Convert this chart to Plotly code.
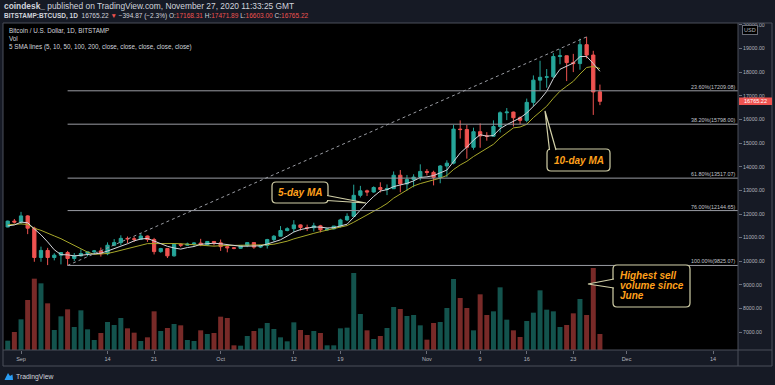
import plotly.graph_objects as go
import pandas as pd

# ---------------- data ----------------
dates = pd.date_range("2020-08-30", "2020-11-27", freq="D")

opens = [11450, 11700,
         11660, 11920, 11400, 10160, 10460, 10160, 10260, 10370, 10120, 10230,
         10330, 10400, 10440, 10320, 10680, 10790, 10970, 10950, 10930, 11070,
         10920, 10410, 10540, 10230, 10720, 10680, 10730, 10770, 10700, 10840,
         10780, 10620, 10570, 10550, 10670, 10790, 10600, 10670, 10920, 11060,
         11300, 11380, 11540, 11430, 11420, 11500, 11330, 11370, 11490, 11750,
         11900, 12790, 12980, 12930, 13120, 13040, 13070, 13640, 13270, 13460, 13560,
         13800, 13760, 13550, 14030, 14150, 15590, 15570, 14820, 15480, 15300,
         15290, 15700, 16280, 16310, 16070, 15960, 16720, 17660, 17780, 17800,
         18660, 18690, 18400, 18360, 19160, 18720, 17168.31]
highs = [11720, 11790,
         12090, 11950, 11460, 10620, 10570, 10340, 10390, 10440, 10350, 10500,
         10400, 10480, 10580, 10800, 10940, 11100, 11050, 11040, 11180, 11090,
         10990, 10570, 10550, 10760, 10770, 10790, 10800, 10950, 10860, 10850,
         10920, 10650, 10600, 10690, 10800, 10800, 10690, 10950, 11110, 11490,
         11440, 11740, 11560, 11550, 11630, 11540, 11400, 11490, 11800, 12030,
         13240, 13190, 13030, 13170, 13340, 13250, 13800, 13860, 13650, 13680, 14100,
         13900, 13830, 14070, 14270, 15770, 15960, 15770, 15650, 15830, 15460,
         15960, 16340, 16480, 16330, 16130, 16880, 17860, 18480, 18130, 18800,
         18970, 18700, 18770, 19410, 19490, 18900, 17471.89]
lows = [11440, 11600,
        11580, 11150, 9980, 9980, 9840, 10040, 9870, 9825.07, 10010, 10200,
        10210, 10300, 10200, 10260, 10640, 10680, 10770, 10820, 10900, 10820,
        10290, 10360, 10140, 10200, 10600, 10650, 10620, 10640, 10650, 10670,
        10440, 10380, 10510, 10530, 10600, 10530, 10560, 10540, 10840, 11060,
        11270, 11230, 11300, 11280, 11260, 11220, 11300, 11350, 11430, 11700,
        11890, 12700, 12760, 12900, 12910, 12800, 13060, 12920, 12990, 13130, 13420,
        13630, 13210, 13300, 13560, 14100, 15190, 14340, 14720, 14800, 15100,
        15280, 15450, 15970, 15700, 15800, 15880, 16560, 17220, 17340, 17750,
        18330, 17620, 18000, 18100, 18580, 16190, 16603.00]
closes = [11700, 11660,
          11920, 11400, 10160, 10460, 10160, 10260, 10370, 10120, 10230, 10330,
          10400, 10440, 10320, 10680, 10790, 10970, 10950, 10930, 11070, 10920,
          10410, 10540, 10230, 10720, 10680, 10730, 10770, 10700, 10840, 10780,
          10620, 10570, 10550, 10670, 10790, 10600, 10670, 10920, 11060, 11300,
          11380, 11540, 11430, 11420, 11500, 11330, 11370, 11490, 11750, 11900,
          12790, 12980, 12930, 13120, 13040, 13070, 13640, 13270, 13460, 13560, 13800,
          13760, 13550, 14030, 14150, 15590, 15570, 14820, 15480, 15300, 15290,
          15700, 16280, 16310, 16070, 15960, 16720, 17660, 17780, 17800, 18660,
          18690, 18400, 18360, 19160, 18720, 17160.09, 16765.22]
# volume, thousand BTC
volumes = [2.8, 5.4,
           9.2, 15.0, 21.4, 20.0, 14.0, 6.0, 10.1, 12.2, 6.9, 11.9,
           6.2, 3.0, 5.1, 8.4, 7.5, 9.6, 6.5, 5.2, 2.7, 3.8,
           11.6, 5.7, 6.6, 7.8, 7.4, 3.0, 2.7, 5.9, 4.8, 5.1,
           10.0, 9.6, 1.4, 1.3, 4.2, 5.7, 6.5, 8.1, 6.3, 3.8,
           2.6, 8.3, 6.0, 4.5, 5.7, 5.1, 1.4, 1.4, 6.5, 6.7,
           23.1, 10.8, 5.9, 3.3, 4.2, 6.6, 12.9, 12.3, 10.2, 10.5, 7.4,
           3.1, 8.1, 8.4, 12.6, 21.3, 15.6, 12.6, 5.9, 16.7, 10.5,
           11.6, 18.8, 9.1, 5.9, 3.9, 8.7, 11.2, 17.9, 12.1, 11.6,
           6.9, 7.5, 11.0, 15.3, 10.5, 24.6, 4.8]
# closes Aug 21 - Aug 29, used only to seed the moving averages
pre_closes = [11530, 11680, 11650, 11760, 11330, 11470, 11320, 11530, 11470]

fib_low = 9825.07
fib_high = 19490.00
fib_start = "2020-09-08"
trend_end = "2020-11-25"
fib_ratios = [0.236, 0.382, 0.618, 0.76, 1.0]

tick_dates = ["2020-09-01", "2020-09-14", "2020-09-21", "2020-10-01", "2020-10-12",
              "2020-10-19", "2020-11-01", "2020-11-09", "2020-11-16", "2020-11-23",
              "2020-12-01", "2020-12-14"]
tick_labels = ["Sep", "14", "21", "Oct", "12", "19", "Nov", "9", "16", "23", "Dec", "14"]
price_ticks = list(range(7000, 20001, 1000))

# ---------------- styling / layout constants ----------------
W, H = 775, 385
L, T, R, B = 3, 23, 738, 350
BG = "#161a25"
UP, DN = "#26a69a", "#ef5350"
UPV, DNV = "rgba(38,166,154,0.5)", "rgba(239,83,80,0.5)"
TXT = "#b2b5be"
FRAME = "#4a4e5a"
FIB = "#9a9ca3"
BOX = "#d2d0a8"
ORANGE = "#ffa01c"
FONT = "Liberation Sans"
YMIN, YMAX = 6250, 20076
XR = ["2020-08-29 07:00", "2020-12-17 18:00"]


def px(x):
    return (x - L) / (R - L)


def py(y):
    return (B - y) / (B - T)


def price_to_pix(p):
    return B - (p - YMIN) / (YMAX - YMIN) * (B - T)


def rrect(x0, y0, x1, y1, r):
    pts = [("M", [(x0 + r, y0)]), ("L", [(x1 - r, y0)]), ("Q", [(x1, y0), (x1, y0 + r)]),
           ("L", [(x1, y1 - r)]), ("Q", [(x1, y1), (x1 - r, y1)]), ("L", [(x0 + r, y1)]),
           ("Q", [(x0, y1), (x0, y1 - r)]), ("L", [(x0, y0 + r)]), ("Q", [(x0, y0), (x0 + r, y0)])]
    s = ""
    for cmd, ps in pts:
        s += cmd + " " + " ".join(f"{px(a):.5f},{py(b):.5f}" for a, b in ps) + " "
    return s + "Z"


def wedge(b1, tip, b2):
    return (f"M {px(b1[0]):.5f},{py(b1[1]):.5f} L {px(tip[0]):.5f},{py(tip[1]):.5f} "
            f"L {px(b2[0]):.5f},{py(b2[1]):.5f}")


def label(x, y, text, size, color, xanchor="left", **kw):
    d = dict(xref="paper", yref="paper", x=px(x), y=py(y), xanchor=xanchor, yanchor="middle",
             showarrow=False, borderpad=0, text=text,
             font=dict(family=FONT, size=size, color=color))
    d.update(kw)
    return d


# ---------------- derived series ----------------
allc = pd.Series(pre_closes + closes)
sma5 = allc.rolling(5).mean().iloc[len(pre_closes):].tolist()
sma10 = allc.rolling(10).mean().iloc[len(pre_closes):].tolist()
vol_colors = [UPV if c >= o else DNV for o, c in zip(opens, closes)]

fig = go.Figure()
fig.add_trace(go.Bar(x=dates, y=volumes, yaxis="y2", width=0.75 * 86400000,
                     marker=dict(color=vol_colors, line=dict(width=0)),
                     showlegend=False, hoverinfo="skip"))
fig.add_trace(go.Candlestick(x=dates, open=opens, high=highs, low=lows, close=closes,
                             increasing=dict(line=dict(color=UP, width=1), fillcolor=UP),
                             decreasing=dict(line=dict(color=DN, width=1), fillcolor=DN),
                             whiskerwidth=0, showlegend=False))
fig.add_trace(go.Scatter(x=dates, y=sma10, mode="lines", line=dict(color="#a8a82a", width=1),
                         showlegend=False, hoverinfo="skip"))
fig.add_trace(go.Scatter(x=dates, y=sma5, mode="lines", line=dict(color="#d4d6db", width=1),
                         showlegend=False, hoverinfo="skip"))

shapes = []
annotations = []

# fibonacci levels
for r in fib_ratios:
    lvl = fib_high - r * (fib_high - fib_low)
    shapes.append(dict(type="line", xref="x", yref="y", x0=fib_start, x1=XR[1], y0=lvl, y1=lvl,
                       line=dict(color=FIB, width=1), layer="above"))
    annotations.append(dict(xref="paper", yref="y", x=px(737), y=lvl, xanchor="right",
                            yanchor="bottom", showarrow=False, borderpad=0,
                            text=f"{r*100:.2f}%({lvl:.2f})",
                            font=dict(family=FONT, size=5.4, color="#c3c5cc")))
# trend line
shapes.append(dict(type="line", xref="x", yref="y", x0=fib_start, y0=fib_low, x1=trend_end,
                   y1=fib_high, line=dict(color=FIB, width=1, dash="3px,3px"), layer="above"))

# frame
shapes += [
    dict(type="rect", xref="paper", yref="paper", x0=px(3), x1=px(772), y0=py(366), y1=py(23),
         line=dict(color=FRAME, width=1)),
    dict(type="line", xref="paper", yref="paper", x0=px(738), x1=px(738), y0=py(366), y1=py(23),
         line=dict(color=FRAME, width=1)),
    dict(type="line", xref="paper", yref="paper", x0=px(3), x1=px(772), y0=py(350), y1=py(350),
         line=dict(color=FRAME, width=1)),
]

# callouts
callouts = [
    dict(box=(272, 182, 328, 203), wedge=((327, 195.5), (366, 203), (327, 200.5))),
    dict(box=(547, 149, 610, 171), wedge=((549.5, 150), (545, 111), (556, 150))),
    dict(box=(613, 265, 690, 307), wedge=((614, 279), (588, 284), (614, 288))),
]
for c in callouts:
    shapes.append(dict(type="path", xref="paper", yref="paper", path=rrect(*c["box"], 4),
                       line=dict(color=BOX, width=1.2), fillcolor="#000000", layer="above"))
    shapes.append(dict(type="path", xref="paper", yref="paper", path=wedge(*c["wedge"]),
                       line=dict(color=BOX, width=1.2), fillcolor="#000000", layer="above"))

annotations.append(label(300, 192.5, "<b><i>5-day MA</i></b>", 10, ORANGE, xanchor="center"))
annotations.append(label(578.5, 160, "<b><i>10-day MA</i></b>", 10, ORANGE, xanchor="center"))
for i, line in enumerate(["Highest sell", "volume since", "June"]):
    annotations.append(label(619, 275.5 + 10 * i, f"<b><i>{line}</i></b>", 10, ORANGE))

# header texts
last = closes[-1]
chg = last - closes[-2]
pct = chg / closes[-2] * 100
red = lambda s: f"<span style='color:{DN}'>{s}</span>"
annotations.append(label(3, 6.5, "<b>coindesk_</b> published on TradingView.com, November 27, 2020 11:33:25 GMT",
                         8.4, "#d1d4dc"))
annotations.append(label(3, 15.5,
                         (f"<b>BITSTAMP:BTCUSD, 1D</b>  {last:.2f} {red('▼')} "
                          f"\u2212{abs(chg):.2f} (\u2212{abs(pct):.1f}%) "
                          f"O:{red(f'{opens[-1]:.2f}')} H:{red(f'{highs[-1]:.2f}')} "
                          f"L:{red(f'{lows[-1]:.2f}')} C:{red(f'{last:.2f}')}"),
                         6.5, "#d1d4dc"))
for yy, t in [(30.5, "Bitcoin / U.S. Dollar, 1D, BITSTAMP"), (39, "Vol"),
              (47, "5 SMA lines (5, 10, 50, 100, 200, close, close, close, close, close)")]:
    annotations.append(label(8, yy, t, 6.3, "#d1d4dc"))

# USD badge and last price label
annotations.append(label(750, 30, "USD", 5.5, TXT, xanchor="center", bgcolor="#000000",
                         bordercolor="#6a6d78", borderwidth=1, borderpad=1))
ly = price_to_pix(last)
shapes.append(dict(type="rect", xref="paper", yref="paper", x0=px(739), x1=px(772),
                   y0=py(ly + 3.8), y1=py(ly - 3.8), fillcolor=DN, line=dict(width=0)))
annotations.append(label(755.5, ly, f"{last:.2f}", 5.5, "#ffffff", xanchor="center"))

# TradingView footer
shapes.append(dict(type="path", xref="paper", yref="paper",
                   path=(f"M {px(4.5):.5f},{py(380):.5f} L {px(8):.5f},{py(373):.5f} "
                         f"L {px(10):.5f},{py(376):.5f} L {px(12.5):.5f},{py(374.5):.5f} "
                         f"L {px(13):.5f},{py(380):.5f} Z"),
                   fillcolor="#2a9df4", line=dict(width=0)))
annotations.append(label(14.5, 376.5, "TradingView", 6.8, "#d1d4dc"))

fig.update_layout(
    width=W, height=H,
    margin=dict(l=L, r=W - R, t=T, b=H - B, pad=0),
    paper_bgcolor=BG, plot_bgcolor="#000000",
    showlegend=False, hovermode=False,
    xaxis=dict(type="date", range=XR, tickvals=tick_dates, ticktext=tick_labels,
               ticks="outside", ticklen=3, tickcolor="#6a6d78",
               tickfont=dict(family=FONT, size=5.5, color=TXT),
               showgrid=False, zeroline=False, showline=False,
               rangeslider=dict(visible=False)),
    yaxis=dict(side="right", range=[YMIN, YMAX], tickvals=price_ticks,
               ticktext=[f"{v:.2f}" for v in price_ticks], ticks="outside", ticklen=3,
               tickcolor="#6a6d78", tickfont=dict(family=FONT, size=5.2, color=TXT),
               showgrid=False, zeroline=False, showline=False),
    yaxis2=dict(overlaying="y", range=[0, 98.1], visible=False),
    shapes=shapes, annotations=annotations,
)

fig.write_html("out.html", config={"displayModeBar": False, "staticPlot": True},
               post_script="document.body.style.margin='0';document.body.style.padding='0';"
                           "document.body.style.background='" + BG + "';")
